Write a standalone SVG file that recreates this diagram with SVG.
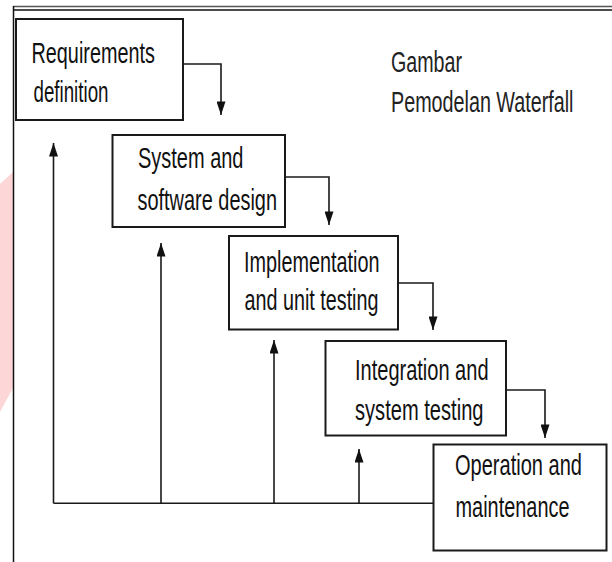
<svg xmlns="http://www.w3.org/2000/svg" width="612" height="562" viewBox="0 0 612 562">
  <defs>
    <style>
      .box { fill: #ffffff; stroke: #1a1a1a; stroke-width: 2; }
      .lbl { font-family: "Liberation Sans", Arial, sans-serif; font-size: 30px; fill: #111111; }
      .cap { font-family: "Liberation Sans", Arial, sans-serif; font-size: 30px; fill: #222222; }
      .con { fill: none; stroke: #1a1a1a; stroke-width: 1.6; }
    </style>
    <marker id="arrow" viewBox="0 0 10 15" refX="5" refY="15" markerWidth="9" markerHeight="14" markerUnits="userSpaceOnUse" orient="0">
      <path d="M0,0 L10,0 L5,15 z" fill="#111111"/>
    </marker>
    <marker id="arrowUp" viewBox="0 0 10 15" refX="5" refY="0" markerWidth="9" markerHeight="14" markerUnits="userSpaceOnUse" orient="0">
      <path d="M0,15 L10,15 L5,0 z" fill="#111111"/>
    </marker>
  </defs>

  <rect x="0" y="0" width="612" height="562" fill="#ffffff"/>

  <!-- decorative pink shape at left edge -->
  <polygon points="0,184 13,172 13,388 0,412" fill="#fdd6d8"/>

  <!-- frame -->
  <g id="frame">
    <line x1="13" y1="6.5" x2="612" y2="6.5" stroke="#555555" stroke-width="1.5"/>
    <line x1="13" y1="10" x2="612" y2="10" stroke="#111111" stroke-width="1.5"/>
    <line x1="13.5" y1="6" x2="13.5" y2="562" stroke="#111111" stroke-width="1.5"/>
  </g>

  <g id="connectors">
    <!-- forward flow -->
    <path class="con" d="M183,64 H221 V115" marker-end="url(#arrow)"/>
    <path class="con" d="M285,177 H329 V225" marker-end="url(#arrow)"/>
    <path class="con" d="M398,283 H433 V330" marker-end="url(#arrow)"/>
    <path class="con" d="M506,390 H545 V438" marker-end="url(#arrow)"/>
    <!-- feedback -->
    <path class="con" d="M433,503.3 H53.5"/>
    <path class="con" d="M53.5,503.3 V143" marker-end="url(#arrowUp)"/>
    <path class="con" d="M161,503.3 V243" marker-end="url(#arrowUp)"/>
    <path class="con" d="M274,503.3 V340" marker-end="url(#arrowUp)"/>
    <path class="con" d="M359,503.3 V449" marker-end="url(#arrowUp)"/>
  </g>

  <g id="requirements">
    <rect class="box" x="16" y="19" width="167" height="101"/>
    <text class="lbl" transform="translate(31.5,63.3) scale(0.66,1)" textLength="187" lengthAdjust="spacingAndGlyphs">Requirements</text>
    <text class="lbl" transform="translate(33.5,101.7) scale(0.66,1)" textLength="113.6" lengthAdjust="spacingAndGlyphs">definition</text>
  </g>

  <g id="design">
    <rect class="box" x="112.5" y="135" width="172.5" height="92"/>
    <text class="lbl" transform="translate(138,168.3) scale(0.66,1)" textLength="159.8" lengthAdjust="spacingAndGlyphs">System and</text>
    <text class="lbl" transform="translate(137.5,210) scale(0.66,1)" textLength="211.4" lengthAdjust="spacingAndGlyphs">software design</text>
  </g>

  <g id="implementation">
    <rect class="box" x="229" y="236" width="169" height="93.5"/>
    <text class="lbl" transform="translate(244,271.7) scale(0.66,1)" textLength="205.3" lengthAdjust="spacingAndGlyphs">Implementation</text>
    <text class="lbl" transform="translate(244.5,310) scale(0.66,1)" textLength="203" lengthAdjust="spacingAndGlyphs">and unit testing</text>
  </g>

  <g id="integration">
    <rect class="box" x="325.5" y="341" width="180.5" height="94.5"/>
    <text class="lbl" transform="translate(355,380) scale(0.66,1)" textLength="202.3" lengthAdjust="spacingAndGlyphs">Integration and</text>
    <text class="lbl" transform="translate(355,420) scale(0.66,1)" textLength="194.7" lengthAdjust="spacingAndGlyphs">system testing</text>
  </g>

  <g id="operation">
    <rect class="box" x="433.5" y="444.5" width="173" height="106"/>
    <text class="lbl" transform="translate(455,475) scale(0.66,1)" textLength="192.4" lengthAdjust="spacingAndGlyphs">Operation and</text>
    <text class="lbl" transform="translate(455.5,517.3) scale(0.66,1)" textLength="172.7" lengthAdjust="spacingAndGlyphs">maintenance</text>
  </g>

  <g id="caption">
    <text class="cap" transform="translate(391,71.7) scale(0.66,1)" textLength="107.6" lengthAdjust="spacingAndGlyphs">Gambar</text>
    <text class="cap" transform="translate(391,111.7) scale(0.66,1)" textLength="276.5" lengthAdjust="spacingAndGlyphs">Pemodelan Waterfall</text>
  </g>
</svg>
